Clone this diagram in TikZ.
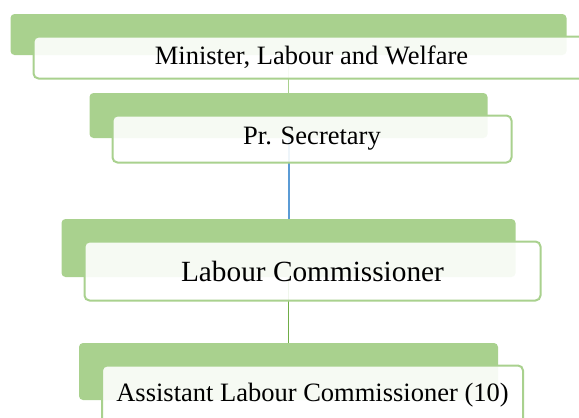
\documentclass[tikz,border=0pt]{standalone}
\usepackage{fontspec}
\setmainfont{Liberation Serif}
\usetikzlibrary{positioning,backgrounds}
\definecolor{boxgreen}{RGB}{169,209,142}
\definecolor{linkblue}{RGB}{91,155,213}
\definecolor{linkgreen}{RGB}{112,173,71}

\begin{document}
\begin{tikzpicture}[
    x=0.5pt, y=-0.5pt,
    back/.style={rectangle, fill=boxgreen, rounded corners=2pt, anchor=north west, inner sep=0pt, outer sep=0pt},
    front/.style={rectangle, draw=boxgreen, line width=1pt, fill=white, fill opacity=0.9, text opacity=1, rounded corners=2.5pt, inner sep=0pt, outer sep=0pt, font=\fontsize{13.25}{15}\selectfont},
    shift/.style={below right=11.25pt and 11.5pt of #1.north west},
    link/.style={line width=0.6pt}
]
    \useasboundingbox (0,0) rectangle (579,418);

    % Minister
    \node[back, minimum width=278pt, minimum height=20.5pt] (back1) at (10.5,14) {};
    \node[front, shift=back1, minimum width=278pt, minimum height=21pt] (minister) {Minister, Labour and Welfare};

    % Secretary
    \node[back, minimum width=199pt, minimum height=22.5pt] (back2) at (89.5,93) {};
    \node[front, shift=back2, minimum width=199.5pt, minimum height=23.5pt] (secretary) {Pr. Secretary};

    % Commissioner
    \node[back, minimum width=227pt, minimum height=29pt] (back3) at (61.5,219) {};
    \node[front, shift=back3, minimum width=228pt, minimum height=29.5pt, font=\fontsize{14.65}{17}\selectfont] (commissioner) {Labour Commissioner};

    % Assistant commissioners
    \node[back, minimum width=209.5pt, minimum height=28.5pt] (back4) at (79,343) {};
    \node[front, shift=back4, minimum width=210.5pt, minimum height=29.5pt] (assistant) {Assistant Labour Commissioner (10)};

    % links behind the boxes
    \begin{scope}[on background layer]
        \draw[link, draw=boxgreen] (back1) -- (back2);
        \draw[link, draw=linkblue, line width=1pt] (back2) -- (back3);
        \draw[link, draw=linkgreen] (back3) -- (back4);
    \end{scope}
\end{tikzpicture}
\end{document}
